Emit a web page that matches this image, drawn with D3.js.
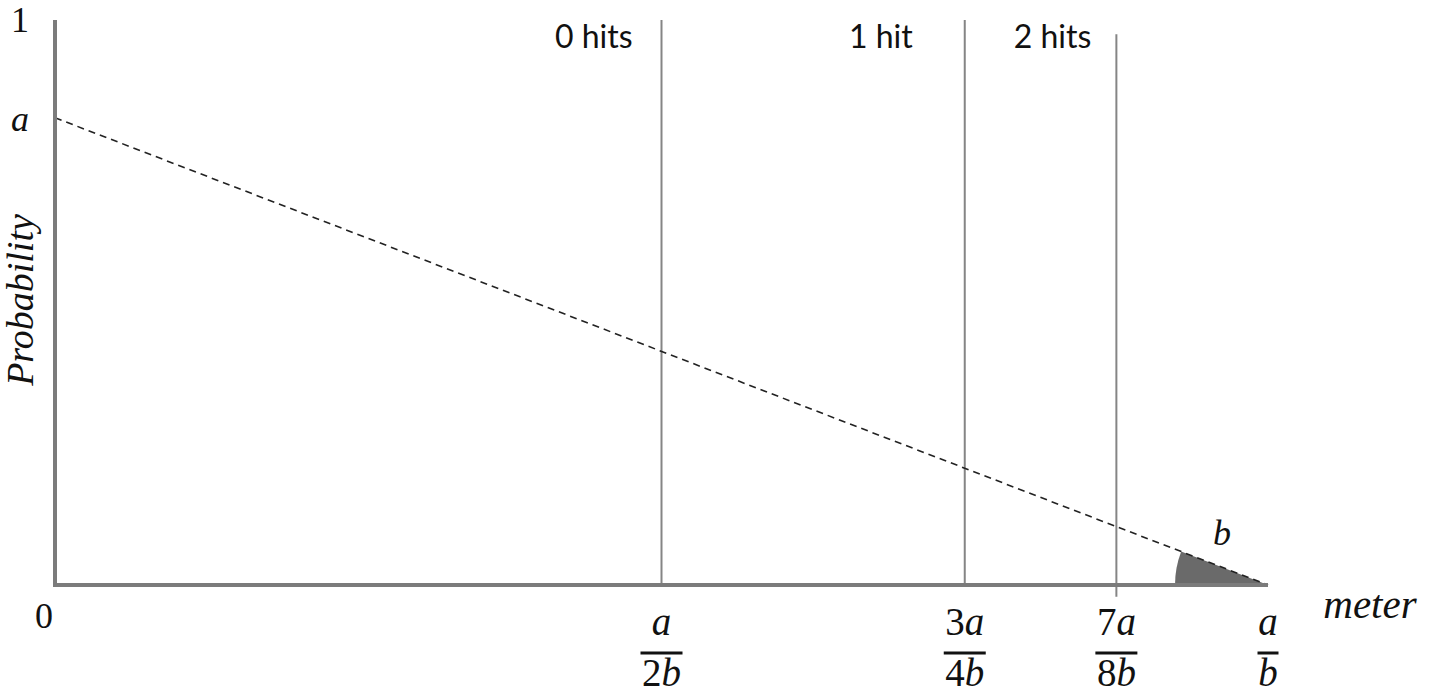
<!DOCTYPE html>
<html>
<head>
<meta charset="utf-8">
<script src="https://cdn.jsdelivr.net/npm/d3@7/dist/d3.min.js"></script>
<style>
  html, body { margin: 0; padding: 0; background: #fff; }
  svg { display: block; }
</style>
</head>
<body>
<svg id="chart" width="1430" height="697"></svg>
<script>
// ---- data ----
const aValue = 0.827;                       // intercept "a" on probability axis
const lineX = [0, 1];                       // dashed line from x=0 to x=a/b (normalised)
const hitPositions = [0.5, 0.75, 0.875];    // a/2b, 3a/4b, 7a/8b
const hitLabels = ["0 hits", "1 hit", "2 hits"];
const hitTop = [1, 1, 0.975];
const hitBottom = [0, 0, -0.021];
const xTickValues = [0.5, 0.75, 0.875, 1];
const xTickNum = ["a", "3a", "7a", "a"];
const xTickDen = ["2b", "4b", "8b", "b"];
const yTickValues = [1, aValue];
const yTickLabels = ["1", "a"];

// ---- layout ----
const svg = d3.select("#chart");
const x = d3.scaleLinear().domain([0, 1]).range([55, 1268]);
const y = d3.scaleLinear().domain([0, 1]).range([585, 20]);
const axisColor = "#7b7b7b";
const textColor = "#111";
const mathFont = "'Liberation Serif', 'Times New Roman', serif";
const textFont = "Lato, 'Open Sans', sans-serif";

// math text helper: digits upright, letters italic
function mathText(sel, str) {
  const parts = str.match(/[0-9]+|[^0-9]+/g) || [];
  parts.forEach(p => {
    sel.append("tspan")
      .attr("font-style", /[0-9]/.test(p) ? "normal" : "italic")
      .text(p);
  });
}

// wedge (angle b)
const theta = Math.atan((y(0) - y(aValue)) / (x(1) - x(0)));
svg.append("path")
  .attr("transform", `translate(${x(1)},${y(0)})`)
  .attr("d", d3.arc()({innerRadius: 0, outerRadius: 93, startAngle: -Math.PI / 2, endAngle: -Math.PI / 2 + theta}))
  .attr("fill", "#6a6a6a");

// vertical hit lines
svg.selectAll("line.hit")
  .data(hitPositions)
  .join("line")
  .attr("class", "hit")
  .attr("x1", d => x(d)).attr("x2", d => x(d))
  .attr("y1", (d, i) => y(hitTop[i]))
  .attr("y2", (d, i) => y(hitBottom[i]))
  .attr("stroke", "#858585")
  .attr("stroke-width", 2);

// hit labels
const labelGap = [29, 52, 25];
svg.selectAll("text.hitlabel")
  .data(hitLabels)
  .join("text")
  .attr("class", "hitlabel")
  .attr("x", (d, i) => x(hitPositions[i]) - labelGap[i])
  .attr("y", 48)
  .attr("text-anchor", "end")
  .attr("font-family", textFont)
  .attr("font-size", 32)
  .attr("fill", textColor)
  .text(d => d);

// dashed probability line
svg.append("path")
  .datum(lineX)
  .attr("d", d3.line().x(d => x(d)).y(d => y(aValue * (1 - d))))
  .attr("fill", "none")
  .attr("stroke", "#222")
  .attr("stroke-width", 1.6)
  .attr("stroke-dasharray", "7,5");

// axes
svg.append("path")
  .attr("d", `M${x(0)},${y(1)} V${y(0)} H${x(1)}`)
  .attr("fill", "none")
  .attr("stroke", axisColor)
  .attr("stroke-width", 4)
  .attr("stroke-linejoin", "miter");

// y tick labels
const yLab = svg.selectAll("text.ytick")
  .data(yTickValues)
  .join("text")
  .attr("class", "ytick")
  .attr("x", 20)
  .attr("y", (d, i) => y(d) + (i === 0 ? 12 : 13))
  .attr("text-anchor", "middle")
  .attr("font-family", mathFont)
  .attr("font-size", 36)
  .attr("fill", textColor);
yLab.each(function(d, i) { mathText(d3.select(this), yTickLabels[i]); });

// origin label
svg.append("text")
  .attr("x", x(0) - 11).attr("y", y(0) + 43)
  .attr("text-anchor", "middle")
  .attr("font-family", mathFont)
  .attr("font-size", 36)
  .attr("fill", textColor)
  .text("0");

// x tick fraction labels
const frac = svg.selectAll("g.frac")
  .data(xTickValues)
  .join("g")
  .attr("class", "frac")
  .attr("transform", d => `translate(${x(d)},0)`);
frac.append("text")
  .attr("y", 635)
  .attr("text-anchor", "middle")
  .attr("font-family", mathFont)
  .attr("font-size", 39)
  .attr("fill", textColor)
  .each(function(d, i) { mathText(d3.select(this), xTickNum[i]); });
frac.append("text")
  .attr("y", 686)
  .attr("text-anchor", "middle")
  .attr("font-family", mathFont)
  .attr("font-size", 39)
  .attr("fill", textColor)
  .each(function(d, i) { mathText(d3.select(this), xTickDen[i]); });
frac.append("line")
  .attr("x1", (d, i) => -(xTickDen[i].length * 10.5))
  .attr("x2", (d, i) => xTickDen[i].length * 10.5)
  .attr("y1", 653).attr("y2", 653)
  .attr("stroke", textColor)
  .attr("stroke-width", 3);

// angle label b
svg.append("text")
  .attr("x", 1222).attr("y", 545)
  .attr("text-anchor", "middle")
  .attr("font-family", mathFont)
  .attr("font-style", "italic")
  .attr("font-size", 36)
  .attr("fill", textColor)
  .text("b");

// axis titles
svg.append("text")
  .attr("x", 1370).attr("y", 618)
  .attr("text-anchor", "middle")
  .attr("font-family", mathFont)
  .attr("font-style", "italic")
  .attr("font-size", 41)
  .attr("fill", textColor)
  .text("meter");

svg.append("text")
  .attr("transform", "translate(33,300) rotate(-90)")
  .attr("text-anchor", "middle")
  .attr("font-family", mathFont)
  .attr("font-style", "italic")
  .attr("font-size", 38)
  .attr("fill", textColor)
  .text("Probability");
</script>
</body>
</html>
